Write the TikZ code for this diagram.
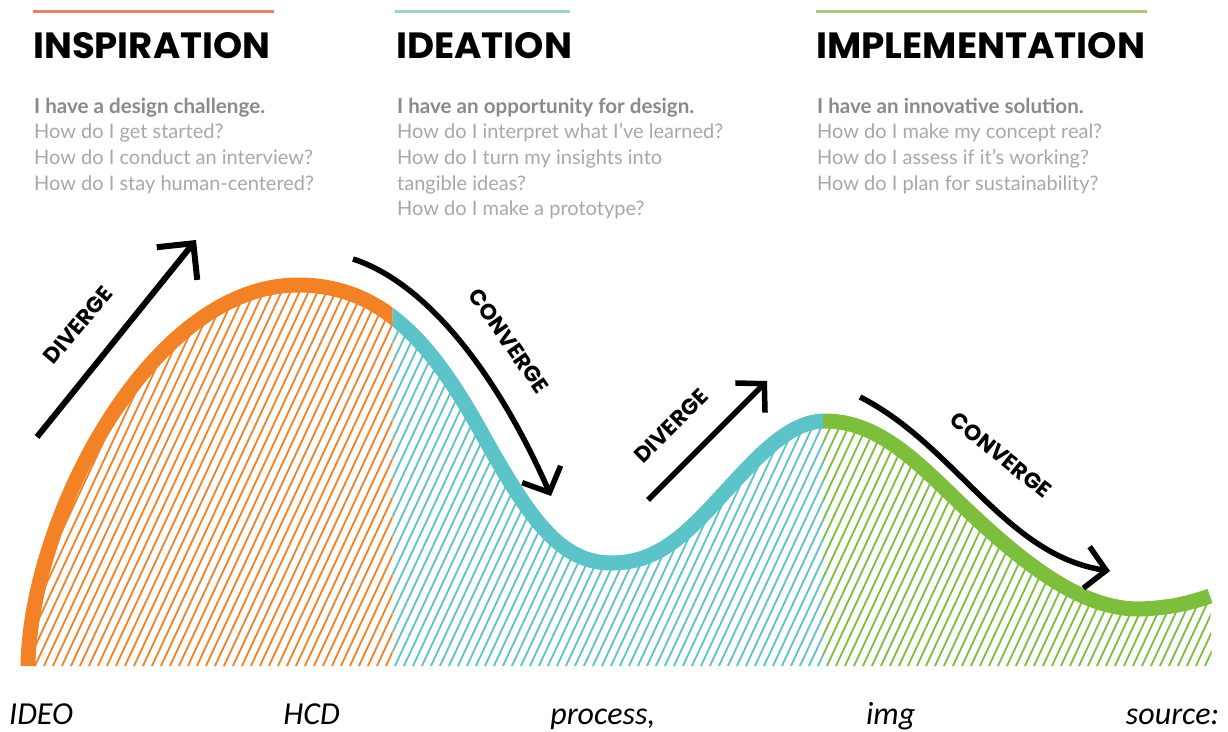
\documentclass[tikz,border=0pt]{standalone}
\usepackage{fontspec}
\usepackage{graphicx}
\setmainfont{Lato}
\newfontfamily\popp{Poppins}
\newfontfamily\capfont{Carlito}
\usetikzlibrary{arrows.meta}
\definecolor{corange}{HTML}{F28225}
\definecolor{cteal}{HTML}{5CC4C8}
\definecolor{cgreen}{HTML}{7DBE3C}
\definecolor{lorange}{HTML}{E08463}
\definecolor{lteal}{HTML}{9AD6CC}
\definecolor{lgreen}{HTML}{ADC779}
\definecolor{gbold}{HTML}{8A8A8A}
\definecolor{greg}{HTML}{A8A8A8}
\newcommand\curvepath{(28,666) .. controls (30,520) and (150,285) .. (298,285)
  .. controls (380,285) and (430,340) .. (480,430)
  .. controls (530,520) and (560,563) .. (612,563)
  .. controls (660,563) and (690,530) .. (725,492)
  .. controls (760,454) and (790,421) .. (825,421)
  .. controls (880,421) and (920,465) .. (965,508)
  .. controls (1020,560) and (1080,610) .. (1140,609)
  .. controls (1170,608) and (1190,603) .. (1210,596)}
\newcommand\hatchlines{\foreach \k in {0,...,160} {\draw[hatch] ({\k*9-200},668) -- ++(196,-420);}}
\frenchspacing
\begin{document}
\begin{tikzpicture}[x=1pt,y=-1pt,
  hatch/.style={line width=1.8pt},
  curve/.style={line width=15pt},
  topline/.style={line width=3pt},
  title/.style={anchor=base west,inner sep=0pt},
  bodyb/.style={anchor=base west,inner sep=0pt,font=\bfseries\fontsize{20.6}{24}\selectfont,text=gbold},
  bodyr/.style={anchor=base west,inner sep=0pt,font=\fontsize{20}{24}\selectfont,text=greg},
  arrlabel/.style={inner sep=0pt,font=\popp\bfseries\fontsize{22}{24}\selectfont},
  arrbig/.style={line width=6pt,-{Straight Barb[length=26pt,width=52pt]}},
  arrsmall/.style={line width=5.5pt,-{Straight Barb[length=20pt,width=42pt]}}]
\useasboundingbox (0,0) rectangle (1228,731);
\fill[white] (0,0) rectangle (1228,731);

% hatched area under the curve
\begin{scope}
  \clip \curvepath -- (1212,666) -- (26,666) -- cycle;
  \begin{scope}
    \clip (0,200) rectangle (392.5,700);
    \begin{scope}[color=corange]\hatchlines\end{scope}
  \end{scope}
  \begin{scope}
    \clip (392.5,200) rectangle (823,700);
    \begin{scope}[color=cteal]\hatchlines\end{scope}
  \end{scope}
  \begin{scope}
    \clip (823,200) rectangle (1228,700);
    \begin{scope}[color=cgreen]\hatchlines\end{scope}
  \end{scope}
\end{scope}

% the curve
\begin{scope}
  \clip (0,200) rectangle (392.5,666);
  \draw[curve,corange] \curvepath;
\end{scope}
\begin{scope}
  \clip (392.5,200) rectangle (823,666);
  \draw[curve,cteal] \curvepath;
\end{scope}
\begin{scope}
  \clip (823,200) rectangle (1228,666);
  \draw[curve,cgreen] \curvepath;
\end{scope}

% top rules
\coordinate (l1a) at (33,11); \coordinate (l1b) at (274,11);
\coordinate (l2a) at (395,11); \coordinate (l2b) at (570,11);
\coordinate (l3a) at (816,11); \coordinate (l3b) at (1147,11);
\draw[topline,lorange] (l1a) -- (l1b);
\draw[topline,lteal] (l2a) -- (l2b);
\draw[topline,lgreen] (l3a) -- (l3b);

% titles
\node[title] (tinsp) at (33,58) {\resizebox{237pt}{26pt}{\popp\bfseries INSPIRATION}};
\node[title] (tidea) at (396,58) {\resizebox{176pt}{26pt}{\popp\bfseries IDEATION}};
\node[title] (timpl) at (816,58) {\resizebox{329pt}{26pt}{\popp\bfseries IMPLEMENTATION}};

% body texts
\node[bodyb] (a1) at (34,113) {I have a design challenge.};
\node[bodyr] (a2) at (34,138.7) {How do I get started?};
\node[bodyr] (a3) at (34,164.4) {How do I conduct an interview?};
\node[bodyr] (a4) at (34,190.1) {How do I stay human-centered?};

\node[bodyb] (b1) at (397,113) {I have an opportunity for design.};
\node[bodyr] (b2) at (397,138.7) {How do I interpret what I've learned?};
\node[bodyr] (b3) at (397,164.4) {How do I turn my insights into};
\node[bodyr] (b4) at (397,190.1) {tangible ideas?};
\node[bodyr] (b5) at (397,215.8) {How do I make a prototype?};

\node[bodyb] (c1) at (817,113) {I have an innovative solution.};
\node[bodyr] (c2) at (817,138.7) {How do I make my concept real?};
\node[bodyr] (c3) at (817,164.4) {How do I assess if it's working?};
\node[bodyr] (c4) at (817,190.1) {How do I plan for sustainability?};

% arrows
\coordinate (d1s) at (37,437); \coordinate (d1e) at (196,240);
\draw[arrbig] (d1s) -- (d1e);
\node[arrlabel,rotate=50] (d1l) at (78,325) {DIVERGE};

\coordinate (c1s) at (353,259); \coordinate (c1e) at (551,496);
\draw[arrsmall] (c1s) .. controls (430,284) and (500,380) .. (c1e);
\node[arrlabel,rotate=-55] (c1l) at (509,341) {CONVERGE};

\coordinate (d2s) at (648,500); \coordinate (d2e) at (767,381);
\draw[arrsmall] (d2s) -- (d2e);
\node[arrlabel,rotate=45] (d2l) at (671,426) {DIVERGE};

\coordinate (c2s) at (860,397); \coordinate (c2e) at (1110,571);
\draw[arrsmall] (c2s) .. controls (955,445) and (1005,555) .. (c2e);
\node[arrlabel,rotate=-39] (c2l) at (1001,455) {CONVERGE};

% caption
\node[anchor=base west,inner sep=0pt,font=\capfont\itshape\fontsize{32}{35}\selectfont] (cap) at (9,724)
  {\makebox[1210pt][s]{IDEO HCD process, img source:}};
\end{tikzpicture}
\end{document}
